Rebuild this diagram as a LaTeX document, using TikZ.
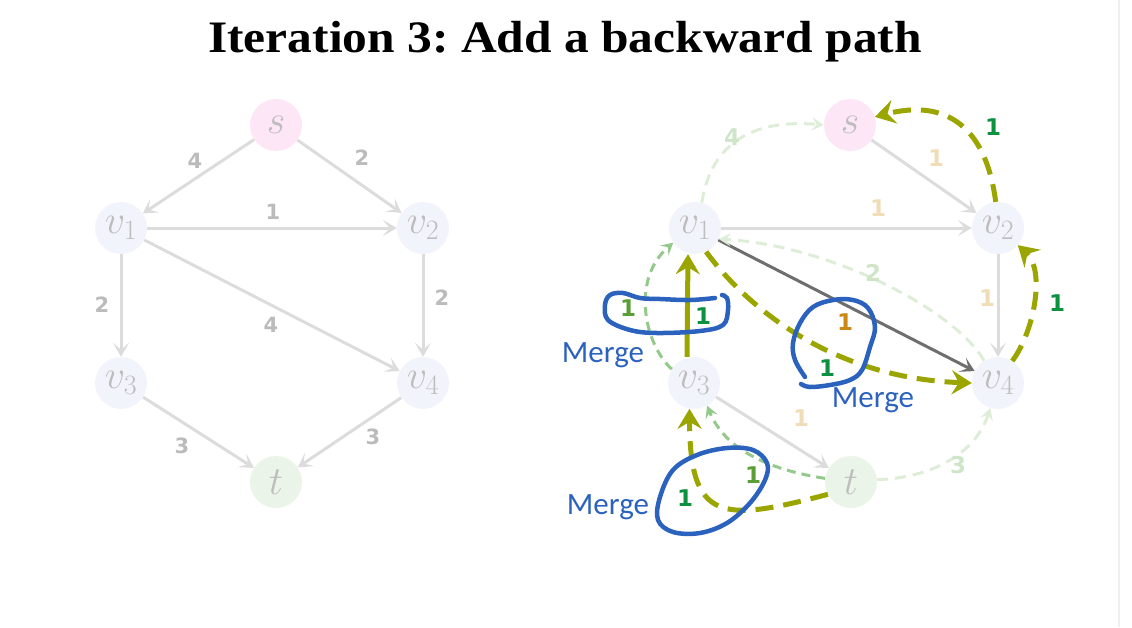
\RequirePackage{fix-cm}
\documentclass[tikz,border=0pt]{standalone}
\usepackage{fontspec}
\usetikzlibrary{arrows.meta}
\newfontfamily\titlefont{Liberation Serif}
\newfontfamily\numfont{DejaVu Sans}
\newfontfamily\mergefont{Carlito}
\definecolor{edgegray}{HTML}{DCDCDC}
\definecolor{lblgray}{HTML}{BBBBBB}
\definecolor{nodetext}{HTML}{BDBDBD}
\definecolor{sfill}{HTML}{FDE6F6}
\definecolor{vfill}{HTML}{F2F4FB}
\definecolor{tfill}{HTML}{EBF4E8}
\definecolor{lorange}{HTML}{F0DDB8}
\definecolor{dgray}{HTML}{6E6E6E}
\definecolor{dorange}{HTML}{CC8814}
\definecolor{lgreen}{HTML}{DDEDD8}
\definecolor{lgreenlbl}{HTML}{CFE5C8}
\definecolor{mgreen}{HTML}{93C98A}
\definecolor{mgreenlbl}{HTML}{5A9E35}
\definecolor{olive}{HTML}{9AA500}
\definecolor{glbl}{HTML}{0B9140}
\definecolor{pen}{HTML}{2B62BE}
\definecolor{slideedge}{HTML}{F0F0F0}
\frenchspacing
\begin{document}
\begin{tikzpicture}[x=1pt,y=-1pt,
  nd/.style={circle, minimum size=52pt, inner sep=0pt, text=nodetext, font=\fontsize{40}{40}\selectfont},
  vnd/.style={nd, fill=vfill},
  snd/.style={nd, fill=sfill},
  tnd/.style={nd, fill=tfill},
  gedge/.style={draw=edgegray, line width=3pt, -{Stealth[length=14pt,width=16pt,inset=7pt]}},
  dedge/.style={draw=dgray, line width=3pt, -{Stealth[length=14pt,width=16pt,inset=7pt]}},
  lgedge/.style={draw=lgreen, line width=3pt, dash pattern=on 11pt off 7pt, -{Stealth[length=12pt,width=13pt,inset=5pt]}},
  mgedge/.style={draw=mgreen, line width=3pt, dash pattern=on 9pt off 6pt, -{Stealth[length=12pt,width=13pt,inset=5pt]}},
  oedge/.style={draw=olive, line width=5pt, dash pattern=on 18pt off 10pt, -{Stealth[length=20pt,width=24pt,inset=7pt]}},
  osolid/.style={draw=olive, line width=5pt, -{Stealth[length=20pt,width=24pt,inset=7pt]}},
  lbl/.style={font=\numfont\bfseries\fontsize{21}{21}\selectfont, inner sep=0pt},
  rlbl/.style={font=\numfont\bfseries\fontsize{23}{23}\selectfont, inner sep=0pt},
  pentrace/.style={draw=pen, line width=4.5pt, line cap=round, line join=round},
  mergelbl/.style={text=pen, font=\mergefont\fontsize{31}{31}\selectfont, inner sep=0pt}
]
\useasboundingbox (0,0) rectangle (1132,627);
\draw[slideedge, line width=1.5pt] (1119,0) -- (1119,627);

% title
\node[anchor=base, inner sep=0pt] (title) at (565,52) {\scalebox{1.1}[1]{\titlefont\bfseries\fontsize{45}{45}\selectfont Iteration 3: Add a backward path}};

% ---------- left graph ----------
\node[snd] (s) at (276,125) {$s$};
\node[vnd] (v1) at (121,228) {$v_1$};
\node[vnd] (v2) at (423,228) {$v_2$};
\node[vnd] (v3) at (121,383) {$v_3$};
\node[vnd] (v4) at (423,383) {$v_4$};
\node[tnd] (t) at (276,482) {$t$};

\draw[gedge] (s) -- (v1);
\draw[gedge] (s) -- (v2);
\draw[gedge] (v1) -- (v2);
\draw[gedge] (v1) -- (v3);
\draw[gedge] (v1) -- (v4);
\draw[gedge] (v2) -- (v4);
\draw[gedge] (v3) -- (t);
\draw[gedge] (v4) -- (t);

\node[lbl, text=lblgray] (l1) at (195,161) {4};
\node[lbl, text=lblgray] (l2) at (362,158) {2};
\node[lbl, text=lblgray] (l3) at (273,212) {1};
\node[lbl, text=lblgray] (l4) at (102,305) {2};
\node[lbl, text=lblgray] (l5) at (271,325) {4};
\node[lbl, text=lblgray] (l6) at (442,298) {2};
\node[lbl, text=lblgray] (l7) at (182,446) {3};
\node[lbl, text=lblgray] (l8) at (373,437) {3};

% ---------- right graph ----------
\node[snd] (rs) at (850,125) {$s$};
\node[vnd] (rv1) at (695,228) {$v_1$};
\node[vnd] (rv2) at (998,228) {$v_2$};
\node[vnd] (rv3) at (694,383) {$v_3$};
\node[vnd] (rv4) at (998,383) {$v_4$};
\node[tnd] (rt) at (851,482) {$t$};

% forward residual edges
\draw[gedge] (rs) -- (rv2);
\draw[gedge] (rv1) -- (rv2);
\draw[gedge] (rv2) -- (rv4);
\draw[gedge] (rv3) -- (rt);
\draw[dedge] (rv1) -- (rv4);

% light green backward edges
\draw[lgedge] (rv1.75) .. controls (710,150) and (745,118) .. (rs.west);
\draw[lgedge] (rv4.122) .. controls (955,310) and (830,245) .. (rv1.-25);
\draw[lgedge] (rt.5) .. controls (930,478) and (975,455) .. (rv4.-107);
% medium green backward edges
\draw[mgedge] (rt.172) .. controls (770,470) and (725,450) .. (rv3.-60);
\draw[mgedge] (rv3.148) .. controls (645,345) and (630,280) .. (rv1.-146);

% olive augmenting path
\draw[osolid] ([xshift=-7pt]rv3.north) -- ([xshift=-7pt]rv1.south);
\draw[oedge] (rv1.-65) .. controls (745,305) and (830,378) .. (rv4.180);
\draw[oedge] (rv4.57) .. controls (1035,330) and (1045,270) .. (rv2.-41);
\draw[oedge] (rv2.95) .. controls (985,120) and (940,100) .. (rs.18);
\draw[oedge] (rt.208) .. controls (720,523) and (690,521) .. (rv3.-100);

% labels right
\node[rlbl, text=lgreenlbl] (r4) at (732,137) {4};
\node[rlbl, text=lgreenlbl] (r2) at (873,273) {2};
\node[rlbl, text=lgreenlbl] (r3) at (958,465) {3};
\node[rlbl, text=lorange] (ra) at (936,158) {1};
\node[rlbl, text=lorange] (rb) at (878,208) {1};
\node[rlbl, text=lorange] (rc) at (987,298) {1};
\node[rlbl, text=lorange] (rd) at (801,418) {1};
\node[rlbl, text=dorange] (re) at (845,322) {1};
\node[rlbl, text=mgreenlbl] (rf) at (628,308) {1};
\node[rlbl, text=mgreenlbl] (rg) at (753,475) {1};
\node[rlbl, text=glbl] (rh) at (703,316) {1};
\node[rlbl, text=glbl] (ri) at (827,368) {1};
\node[rlbl, text=glbl] (rj) at (685,498) {1};
\node[rlbl, text=glbl] (rk) at (1057,303) {1};
\node[rlbl, text=glbl] (rl) at (993,127) {1};

% hand-drawn merges
\draw[pentrace] plot[smooth, tension=0.6] coordinates {(715,298) (690,300) (660,299) (640,298) (623,293) (610,295) (605,305) (608,320) (630,330) (657,333) (700,331) (723,325) (728,310) (727,298) (722,295)};
\draw[pentrace] plot[smooth, tension=0.6] coordinates {(805,377) (795,360) (793,343) (800,323) (813,307) (833,300) (853,300) (868,308) (875,327) (870,347) (862,370) (850,380) (830,385) (810,387) (801,384)};
\draw[pentrace] plot[smooth cycle, tension=0.6] coordinates {(660,497) (673,470) (697,455) (727,448) (753,450) (767,463) (765,480) (750,503) (727,523) (700,533) (673,532) (658,520)};

\node[mergelbl] (m1) at (603,355) {Merge};
\node[mergelbl] (m2) at (873,400) {Merge};
\node[mergelbl] (m3) at (608,507) {Merge};
\end{tikzpicture}
\end{document}
